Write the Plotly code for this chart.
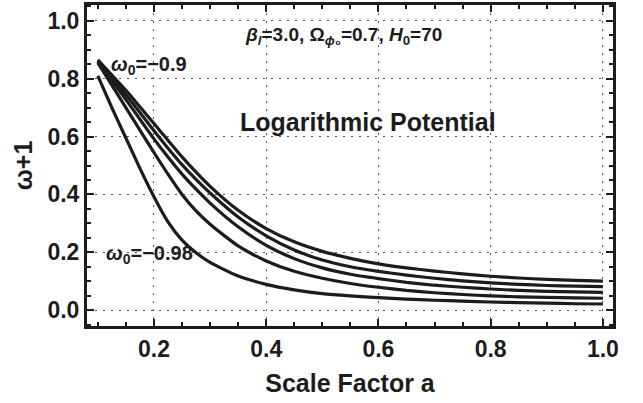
import plotly.graph_objects as go

# Scale factor samples and w+1 for each present-day equation of state w0
scale_factor = [0.100, 0.125, 0.150, 0.175, 0.200, 0.225, 0.250, 0.275, 0.300,
                0.350, 0.400, 0.450, 0.500, 0.550, 0.600, 0.650, 0.700, 0.750,
                0.800, 0.850, 0.900, 0.950, 1.000]
w_plus1_m090 = [0.865, 0.813, 0.760, 0.703, 0.645, 0.587, 0.530, 0.477, 0.428,
                0.345, 0.282, 0.236, 0.203, 0.179, 0.160, 0.146, 0.135, 0.125,
                0.117, 0.111, 0.106, 0.103, 0.100]
w_plus1_m092 = [0.862, 0.805, 0.745, 0.683, 0.620, 0.560, 0.503, 0.452, 0.405,
                0.322, 0.257, 0.208, 0.173, 0.150, 0.134, 0.121, 0.110, 0.101,
                0.094, 0.089, 0.085, 0.083, 0.081]
w_plus1_m094 = [0.858, 0.795, 0.728, 0.660, 0.592, 0.529, 0.470, 0.418, 0.370,
                0.288, 0.224, 0.178, 0.146, 0.124, 0.109, 0.096, 0.086, 0.079,
                0.073, 0.068, 0.065, 0.063, 0.061]
w_plus1_m096 = [0.855, 0.778, 0.700, 0.622, 0.545, 0.470, 0.400, 0.343, 0.297,
                0.222, 0.170, 0.134, 0.110, 0.092, 0.079, 0.068, 0.060, 0.054,
                0.049, 0.046, 0.044, 0.042, 0.041]
w_plus1_m098 = [0.810, 0.700, 0.595, 0.490, 0.392, 0.305, 0.242, 0.198, 0.165,
                0.118, 0.089, 0.070, 0.057, 0.049, 0.043, 0.038, 0.034, 0.031,
                0.028, 0.026, 0.024, 0.022, 0.021]

series = [
    ("w0=-0.90", w_plus1_m090),
    ("w0=-0.92", w_plus1_m092),
    ("w0=-0.94", w_plus1_m094),
    ("w0=-0.96", w_plus1_m096),
    ("w0=-0.98", w_plus1_m098),
]

tick_vals = [0.0, 0.2, 0.4, 0.6, 0.8, 1.0]
tick_text = ["0.0", "0.2", "0.4", "0.6", "0.8", "1.0"]

FONT = "Liberation Sans, Arial, sans-serif"
INK = "#1c1c1c"

fig = go.Figure()
for name, vals in series:
    fig.add_trace(go.Scatter(
        x=scale_factor, y=vals, mode="lines", name=name,
        line=dict(color=INK, width=3.2, shape="spline", smoothing=0.6),
        showlegend=False,
    ))

axis_common = dict(
    showline=True, linewidth=3, linecolor=INK, mirror="allticks",
    ticks="inside", ticklen=7, tickwidth=2, tickcolor=INK,
    showgrid=True, gridcolor="#555555", gridwidth=1, griddash="2px,6px",
    zeroline=False,
    tickfont=dict(family=FONT, size=23, color=INK, weight="bold"),
    minor=dict(ticks="inside", ticklen=4, tickwidth=2, tickcolor=INK, dtick=0.05, showgrid=False),
)

fig.update_xaxes(
    range=[0.0807, 1.018],
    tickvals=tick_vals[1:], ticktext=tick_text[1:],
    title=dict(text="Scale Factor a", font=dict(family=FONT, size=25, color=INK, weight="bold"), standoff=14),
    **axis_common,
)
fig.update_yaxes(
    range=[-0.055, 1.055],
    tickvals=tick_vals, ticktext=tick_text,
    title=dict(text="ω+1", font=dict(family=FONT, size=25, color=INK, weight="bold"), standoff=8),
    **axis_common,
)

# Layout geometry (pixels) used to place the text labels
W, H = 643, 403
L, R, T, B = 87, 30, 2, 77
pw, ph = W - L - R, H - T - B

def to_paper(px, py):
    return (px - L) / pw, 1 - (py - T) / ph

labels = [
    ("<i>β</i><sub><i>l</i></sub>=3.0, Ω<sub><i>ϕ</i>₀</sub>=0.7, <i>H</i><sub>0</sub>=70", 19, (343, 33)),
    ("Logarithmic Potential", 25, (368, 120)),
    ("<i>ω</i><sub>0</sub>=−0.9", 20, (149, 63)),
    ("<i>ω</i><sub>0</sub>=−0.98", 20, (149, 254)),
]
for text, size, (px, py) in labels:
    ax, ay = to_paper(px, py)
    fig.add_annotation(
        x=ax, y=ay, xref="paper", yref="paper", showarrow=False,
        xanchor="center", yanchor="middle", text=text,
        font=dict(family=FONT, size=size, color=INK, weight="bold"),
    )

fig.update_layout(
    width=W, height=H,
    margin=dict(l=L, r=R, t=T, b=B),
    plot_bgcolor="white", paper_bgcolor="white",
    font=dict(family=FONT, color=INK),
)

fig.write_html("out.html")
